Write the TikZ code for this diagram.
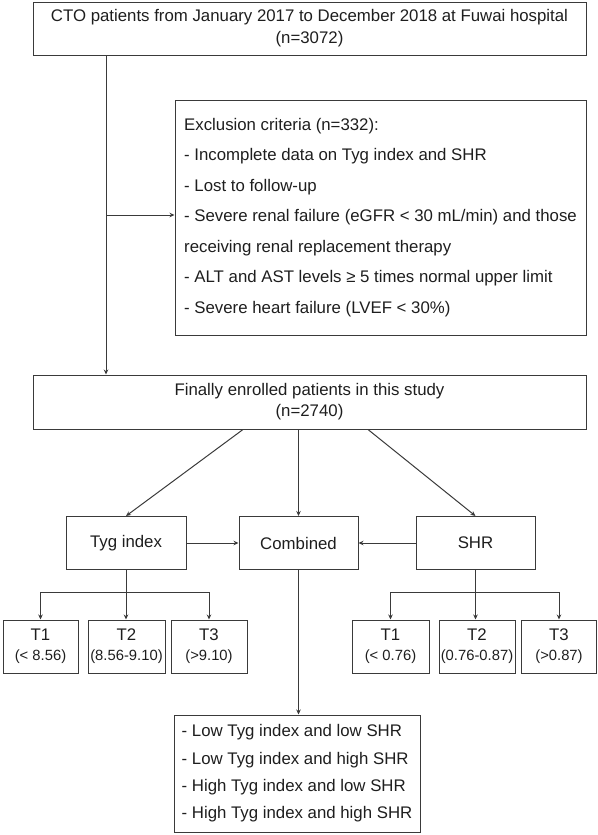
\documentclass[tikz,border=0pt]{standalone}
\usepackage{fontspec}
\setmainfont{Liberation Sans}
\usetikzlibrary{arrows.meta}
\definecolor{ln}{HTML}{3A3A3A}
\definecolor{tx}{HTML}{1E1E1E}
\tikzset{
  box/.style={draw=ln, line width=1pt, rectangle, inner sep=0pt, text=tx},
  arr/.style={draw=ln, line width=1pt, -{Stealth[length=5pt,width=4.5pt]}},
  con/.style={draw=ln, line width=1pt},
  tbox/.style={box, minimum width=76pt, minimum height=53pt, align=center, font=\fontsize{16.8}{20}\selectfont},
}
\newcommand{\paren}[1]{{\fontsize{14.8}{20}\selectfont #1}}
\begin{document}
\begin{tikzpicture}[x=1pt,y=-1pt]
\useasboundingbox (0,0) rectangle (597,835);
\node[box, minimum width=553pt, minimum height=53pt, align=center, font=\fontsize{16.8}{22}\selectfont] (top) at (309.5,28.5)
  {CTO patients from January 2017 to December 2018 at Fuwai hospital\\(n=3072)};
\node[box, minimum width=411pt, minimum height=235pt, align=left, font=\fontsize{16.8}{30.5}\selectfont] (excl) at (380.5,217.5)
  {Exclusion criteria (n=332):\\
   - Incomplete data on Tyg index and SHR\\
   - Lost to follow-up\\
   - Severe renal failure (eGFR < 30 mL/min) and those\\
   receiving renal replacement therapy\\
   - ALT and AST levels ≥ 5 times normal upper limit\\
   - Severe heart failure (LVEF < 30\%)};
\node[box, minimum width=553pt, minimum height=54pt, align=center, font=\fontsize{16.8}{21}\selectfont] (fin) at (309.5,402)
  {Finally enrolled patients in this study\\(n=2740)};
\node[box, minimum width=120pt, minimum height=53pt, font=\fontsize{16.8}{20}\selectfont] (tyg) at (126,543) {Tyg index};
\node[box, minimum width=119pt, minimum height=53pt, font=\fontsize{16.8}{20}\selectfont] (comb) at (298.5,543) {Combined};
\node[box, minimum width=119pt, minimum height=53pt, font=\fontsize{16.8}{20}\selectfont] (shr) at (475.5,543) {SHR};
\node[tbox, minimum width=75pt] (lt1) at (40.5,646.5) {T1\\\paren{(< 8.56)}};
\node[tbox, minimum width=77pt] (lt2) at (126.5,646.5) {T2\\\paren{(8.56-9.10)}};
\node[tbox] (lt3) at (209,646.5) {T3\\\paren{(>9.10)}};
\node[tbox, minimum width=77pt] (rt1) at (390.5,646.5) {T1\\\paren{(< 0.76)}};
\node[tbox] (rt2) at (477,646.5) {T2\\\paren{(0.76-0.87)}};
\node[tbox, minimum width=75pt] (rt3) at (559,646.5) {T3\\\paren{(>0.87)}};
\node[box, minimum width=246pt, minimum height=117pt, align=left, font=\fontsize{16.8}{27.3}\selectfont] (bot) at (297,773.5)
  {- Low Tyg index and low SHR\\
   - Low Tyg index and high SHR\\
   - High Tyg index and low SHR\\
   - High Tyg index and high SHR};
% connectors
\coordinate (v) at (106,215);
\draw[arr] (top.south -| v) -- (fin.north -| v);
\draw[arr] (v) -- (v -| excl.west);
\coordinate (fl) at (243,429);
\coordinate (fr) at (368,429);
\draw[arr] (fin.south -| fl) -- (tyg.north);
\draw[arr] (fin.south -| comb.north) -- (comb.north);
\draw[arr] (fin.south -| fr) -- (shr.north);
\draw[arr] (tyg.east) -- (comb.west);
\draw[arr] (shr.west) -- (comb.east);
\draw[arr] (tyg.south) -- ++(0,22) -| (lt1.north);
\draw[arr] (tyg.south) -- ++(0,22) -| (lt3.north);
\draw[arr] (tyg.south) -- (tyg.south |- lt2.north);
\draw[arr] (shr.south) -- ++(0,22) -| (rt1.north);
\draw[arr] (shr.south) -- ++(0,22) -| (rt3.north);
\draw[arr] (shr.south) -- (shr.south |- rt2.north);
\draw[arr] (comb.south) -- (comb.south |- bot.north);
\end{tikzpicture}
\end{document}
